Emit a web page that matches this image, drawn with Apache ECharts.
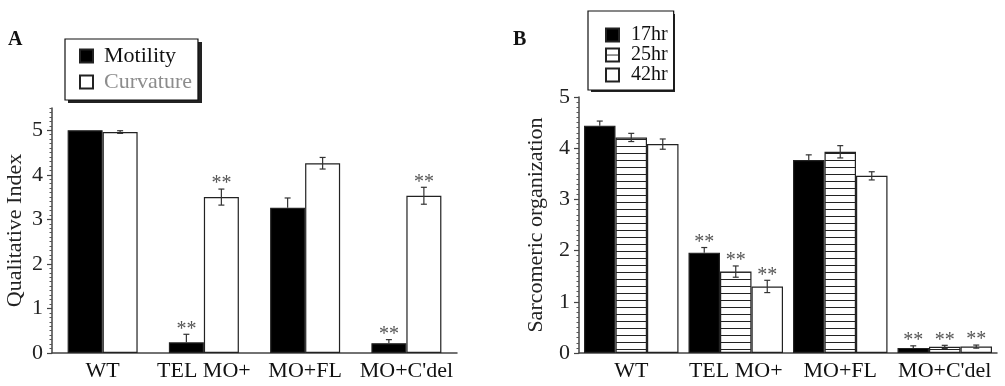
<!DOCTYPE html>
<html><head><meta charset="utf-8">
<script src="https://cdn.jsdelivr.net/npm/echarts@6/dist/echarts.min.js"></script>
<style>html,body{margin:0;padding:0;background:#fff}#c{width:1005px;height:386px}</style>
</head><body><div id="c"></div>
<script>
// ---- data ----
const categories = ['WT', 'TEL MO+', 'MO+FL', "MO+C'del"];
// Panel A
const motility     = [5.00, 0.24, 3.26, 0.22];
const motilityErr  = [0.00, 0.18, 0.22, 0.08];
const motilitySig  = [0, 1, 0, 1];
const curvature    = [4.96, 3.50, 4.26, 3.53];
const curvatureErr = [0.03, 0.18, 0.13, 0.19];
const curvatureSig = [0, 1, 0, 1];
// Panel B
const h17    = [4.44, 1.96, 3.77, 0.10];
const h17Err = [0.09, 0.10, 0.10, 0.04];
const h17Sig = [0, 1, 0, 1];
const h25    = [4.21, 1.59, 3.93, 0.12];
const h25Err = [0.08, 0.11, 0.12, 0.03];
const h25Sig = [0, 1, 0, 1];
const h42    = [4.08, 1.30, 3.46, 0.125];
const h42Err = [0.10, 0.12, 0.08, 0.03];
const h42Sig = [0, 1, 0, 1];
const yTicksA = [0, 1, 2, 3, 4, 5];
const yTicksB = [0, 1, 2, 3, 4, 5];

const FONT = '"Liberation Serif", "DejaVu Serif", serif';

// hatch pattern (horizontal lines)
const pc = document.createElement('canvas');
pc.width = 4; pc.height = 7;
const g = pc.getContext('2d');
g.fillStyle = '#fff'; g.fillRect(0, 0, 4, 7);
g.fillStyle = '#222'; g.fillRect(0, 6, 4, 1);
const hatch = { image: pc, repeat: 'repeat' };

function errSeries(xi, yi, vals, errs, sigs, offset, upperOnly) {
  return {
    type: 'custom', xAxisIndex: xi, yAxisIndex: yi, z: 10, silent: true,
    data: vals.map((v, i) => [i, v, errs[i], sigs[i]]),
    encode: { x: 0, y: 1 },
    renderItem(params, api) {
      const i = api.value(0), v = api.value(1), e = api.value(2), s = api.value(3);
      const top = api.coord([i, v + e]);
      const mid = api.coord([i, v]);
      const bot = api.coord([i, v - e]);
      const x = top[0] + offset;
      const ch = [];
      const st = { stroke: '#333', lineWidth: 1.2 };
      if (e > 0) {
        const yb = upperOnly ? mid[1] : bot[1];
        ch.push({ type: 'line', shape: { x1: x, y1: top[1], x2: x, y2: yb }, style: st });
        ch.push({ type: 'line', shape: { x1: x - 3, y1: top[1], x2: x + 3, y2: top[1] }, style: st });
        if (!upperOnly) ch.push({ type: 'line', shape: { x1: x - 3, y1: bot[1], x2: x + 3, y2: bot[1] }, style: st });
      }
      if (s) {
        ch.push({ type: 'text', style: { text: '**', x: x, y: top[1] + 5, align: 'center', verticalAlign: 'bottom',
          font: '20px ' + FONT, fill: '#555' } });
      }
      return { type: 'group', children: ch };
    }
  };
}

const axisLineStyle = { color: '#444', width: 1.5 };
function xAx(gi) {
  return { type: 'category', gridIndex: gi, data: categories,
    axisLine: { lineStyle: axisLineStyle }, axisTick: { show: false },
    axisLabel: { interval: 0, fontFamily: FONT, fontSize: 22, color: '#111', margin: 7 } };
}
function yMain(gi, max, ticks, name, gap) {
  return { type: 'value', gridIndex: gi, position: 'left', min: 0, max: max, interval: 0.1,
    name: name, nameLocation: 'middle', nameGap: gap,
    nameTextStyle: { fontFamily: FONT, fontSize: 22, color: '#222' },
    axisLine: { show: true, lineStyle: axisLineStyle },
    axisTick: { show: true, length: 2.5, lineStyle: { color: '#555', width: 1 } },
    axisLabel: { customValues: ticks, fontFamily: FONT, fontSize: 22, color: '#222', margin: 9 },
    splitLine: { show: false } };
}
function yMajor(gi, max, ticks) {
  return { type: 'value', gridIndex: gi, position: 'left', offset: 0, min: 0, max: max, interval: 1,
    axisLine: { show: false },
    axisTick: { show: true, customValues: ticks, length: 5, lineStyle: { color: '#444', width: 1.2 } },
    axisLabel: { show: false }, splitLine: { show: false } };
}

const border = { borderColor: '#222', borderWidth: 1.2 };
const legendCommon = {
  orient: 'vertical', itemWidth: 13, itemHeight: 13, icon: 'rect',
  borderColor: '#111', borderWidth: 1.2, backgroundColor: '#fff',
  selectedMode: false, z: 5
};

const option = {
  animation: false,
  title: [
    { text: 'A', left: 8, top: 30, padding: 0, textStyle: { fontFamily: FONT, fontWeight: 'bold', fontSize: 20, color: '#111' } },
    { text: 'B', left: 513, top: 30, padding: 0, textStyle: { fontFamily: FONT, fontWeight: 'bold', fontSize: 20, color: '#111' } }
  ],
  graphic: [
    { type: 'rect', z: 1, shape: { x: 68, y: 42, width: 134, height: 61 }, style: { fill: '#222' } },
    { type: 'rect', z: 1, shape: { x: 591, y: 14, width: 84, height: 78 }, style: { fill: '#222' } }
  ],
  legend: [
    Object.assign({}, legendCommon, {
      left: 65, top: 39, itemGap: 4, padding: [6, 6, 7, 14],
      textStyle: { fontFamily: FONT, fontSize: 22, lineHeight: 22, color: '#111', padding: [0, 0, 0, 6] },
      data: [{ name: 'Motility' }, { name: 'Curvature', textStyle: { color: '#8c8c8c' } }]
    }),
    Object.assign({}, legendCommon, {
      left: 588, top: 11, itemGap: 0, padding: [14, 6, 5, 17],
      textStyle: { fontFamily: FONT, fontSize: 20, lineHeight: 17, color: '#111', padding: [0, 0, 0, 7] },
      data: ['17hr', '25hr', '42hr']
    })
  ],
  grid: [
    { left: 52, top: 108, width: 405, height: 245, containLabel: false, outerBoundsMode: 'none' },
    { left: 579, top: 97, width: 418, height: 256, containLabel: false, outerBoundsMode: 'none' }
  ],
  xAxis: [xAx(0), xAx(1)],
  yAxis: [
    yMain(0, 5.5, yTicksA, 'Qualitative Index', 26),
    yMajor(0, 5.5, yTicksA),
    yMain(1, 5, yTicksB, 'Sarcomeric organization', 32),
    yMajor(1, 5, yTicksB)
  ],
  series: [
    { name: 'Motility', type: 'bar', xAxisIndex: 0, yAxisIndex: 0, data: motility, barWidth: 35, barGap: '0%',
      itemStyle: Object.assign({ color: '#000' }, border) },
    { name: 'Curvature', type: 'bar', xAxisIndex: 0, yAxisIndex: 0, data: curvature, barWidth: 35, barGap: '0%',
      itemStyle: Object.assign({ color: '#fff' }, border) },
    { name: '17hr', type: 'bar', xAxisIndex: 1, yAxisIndex: 2, data: h17, barWidth: 31.5, barGap: '0%',
      itemStyle: Object.assign({ color: '#000' }, border) },
    { name: '25hr', type: 'bar', xAxisIndex: 1, yAxisIndex: 2, data: h25, barWidth: 31.5, barGap: '0%',
      itemStyle: Object.assign({ color: hatch }, border) },
    { name: '42hr', type: 'bar', xAxisIndex: 1, yAxisIndex: 2, data: h42, barWidth: 31.5, barGap: '0%',
      itemStyle: Object.assign({ color: '#fff' }, border) },
    errSeries(0, 0, motility, motilityErr, motilitySig, -17.5, true),
    errSeries(0, 0, curvature, curvatureErr, curvatureSig, 17.5, false),
    errSeries(1, 2, h17, h17Err, h17Sig, -31.5, true),
    errSeries(1, 2, h25, h25Err, h25Sig, 0, false),
    errSeries(1, 2, h42, h42Err, h42Sig, 31.5, false)
  ]
};

const chart = echarts.init(document.getElementById('c'), null, { renderer: 'canvas' });
chart.setOption(option);
</script>
</body></html>
